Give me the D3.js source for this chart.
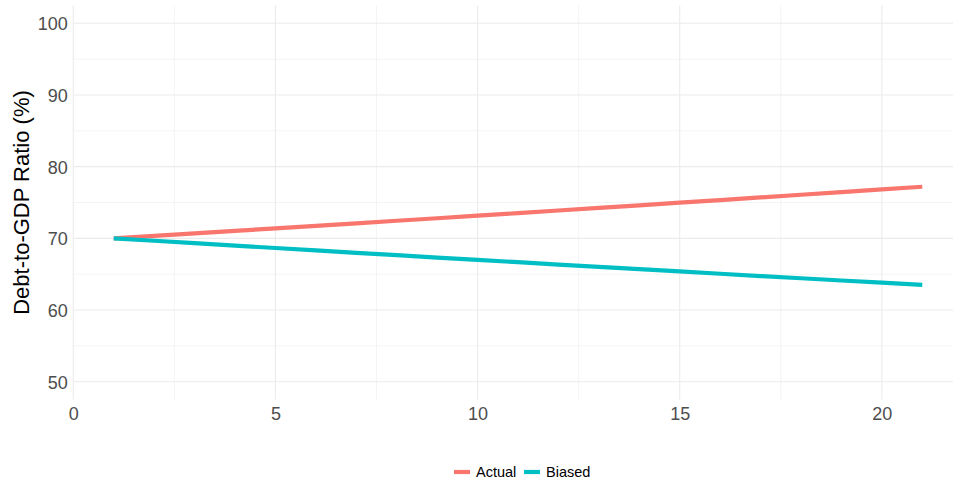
<!DOCTYPE html>
<html><head><meta charset="utf-8">
<script src="https://cdn.jsdelivr.net/npm/d3@7"></script>
<style>body{margin:0;background:#fff}svg{display:block;font-family:"Liberation Sans",Arial,Helvetica,sans-serif}</style>
</head><body><svg id="c" width="953" height="482"></svg>
<script>
const years = d3.range(1, 22);
const actual = [70.0,70.34,70.69,71.04,71.39,71.74,72.09,72.45,72.80,73.16,73.52,73.88,74.24,74.61,74.97,75.34,75.71,76.08,76.45,76.83,77.2];
const biased = [70.0,69.66,69.32,68.98,68.65,68.31,67.98,67.65,67.32,66.99,66.67,66.34,66.02,65.70,65.38,65.06,64.74,64.43,64.12,63.81,63.5];
const seriesNames = ["Actual","Biased"];
const seriesColors = ["#F8766D","#00BFC4"];
const xTicks = [0,5,10,15,20];
const xMinor = [2.5,7.5,12.5,17.5];
const yTicks = [50,60,70,80,90,100];
const yMinor = [55,65,75,85,95];
const yTitle = "Debt-to-GDP Ratio (%)";

const svg = d3.select("#c");
const x = d3.scaleLinear().domain([0, 21.76]).range([73.3, 953]);
const y = d3.scaleLinear().domain([47.5, 102.5]).range([399.6, 5.4]);
const grid = svg.append("g");
grid.selectAll(".vmin").data(xMinor).join("line")
  .attr("x1", d=>x(d)).attr("x2", d=>x(d)).attr("y1", y(102.5)).attr("y2", y(47.5))
  .attr("stroke","#EBEBEB").attr("stroke-width",0.55);
grid.selectAll(".hmin").data(yMinor).join("line")
  .attr("x1", x(0)).attr("x2", 953).attr("y1", d=>y(d)).attr("y2", d=>y(d))
  .attr("stroke","#EBEBEB").attr("stroke-width",0.55);
grid.selectAll(".vmaj").data(xTicks).join("line")
  .attr("x1", d=>x(d)).attr("x2", d=>x(d)).attr("y1", y(102.5)).attr("y2", y(47.5))
  .attr("stroke","#EBEBEB").attr("stroke-width",1.1);
grid.selectAll(".hmaj").data(yTicks).join("line")
  .attr("x1", x(0)).attr("x2", 953).attr("y1", d=>y(d)).attr("y2", d=>y(d))
  .attr("stroke","#EBEBEB").attr("stroke-width",1.1);

const xAxis = d3.axisBottom(x).tickValues(xTicks).tickSize(0).tickPadding(0);
svg.append("g").attr("transform","translate(0,403)").call(xAxis)
  .call(g=>g.select(".domain").remove())
  .selectAll("text").attr("fill","#4D4D4D").attr("font-size","18px").attr("dy","0.95em")
  .style("font-family","Liberation Sans, Arial, sans-serif");
const yAxis = d3.axisLeft(y).tickValues(yTicks).tickSize(0).tickPadding(5.5);
svg.append("g").attr("transform","translate(73.3,0)").call(yAxis)
  .call(g=>g.select(".domain").remove())
  .selectAll("text").attr("fill","#4D4D4D").attr("font-size","18px").attr("dy","0.36em")
  .style("font-family","Liberation Sans, Arial, sans-serif");

svg.append("text").attr("transform","translate(29,"+y(75)+") rotate(-90)")
  .attr("text-anchor","middle").attr("font-size","22px").attr("fill","#000").text(yTitle);

const line = d3.line().x((d,i)=>x(years[i])).y(d=>y(d));
[actual, biased].forEach((s,k)=>{
  svg.append("path").datum(s).attr("d", line).attr("fill","none")
    .attr("stroke", seriesColors[k]).attr("stroke-width",4.2);
});

const leg = svg.append("g");
const legX = [453, 523];
seriesNames.forEach((n,k)=>{
  leg.append("line").attr("x1",legX[k]+1).attr("x2",legX[k]+17).attr("y1",472).attr("y2",472)
    .attr("stroke",seriesColors[k]).attr("stroke-width",4.2);
  leg.append("text").attr("x",legX[k]+23).attr("y",477).attr("font-size","14.5px").attr("fill","#000").text(n);
});
</script></body></html>
